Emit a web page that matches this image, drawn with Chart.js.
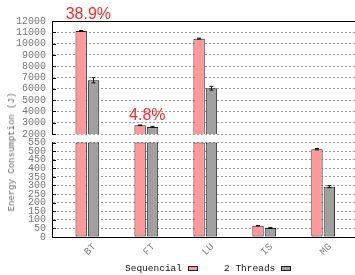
<!DOCTYPE html>
<html>
<head>
<meta charset="utf-8">
<script src="https://cdn.jsdelivr.net/npm/chart.js@4.4.1/dist/chart.umd.min.js"></script>
<style>
  body { margin: 0; background: #fff; }
  #wrap { position: relative; width: 355px; height: 275px; overflow: hidden; }
  #wrap canvas { position: absolute; left: 0; top: 0; }
  #ytitle {
    position: absolute; left: 12px; top: 152px;
    transform: translate(-50%, -50%) rotate(-90deg);
    font: 9px "Liberation Mono", monospace; color: #666; white-space: nowrap;
  }
  #legend {
    position: absolute; left: 125px; top: 263px;
    font: 9.5px "Liberation Mono", monospace; color: #111;
    white-space: nowrap; display: flex; align-items: center;
  }
  #legend .box { display: inline-block; width: 8px; height: 3px; border: 1px solid #222; margin: 0 26px 0 6px; }
</style>
</head>
<body>
<div id="wrap">
  <canvas id="upper" width="355" height="275"></canvas>
  <canvas id="lower" width="355" height="275"></canvas>
  <div id="ytitle">Energy Consumption (J)</div>
  <div id="legend"></div>
</div>
<script>
const categories = ['BT', 'FT', 'LU', 'IS', 'MG'];
const sequencialEnergy = [11120, 2770, 10440, 66, 511];
const sequencialError = [40, 30, 40, 1, 4];
const threadsEnergy = [6760, 2630, 6050, 53, 293];
const threadsError = [230, 50, 170, 2, 6];

const upperTicks = [2000, 3000, 4000, 5000, 6000, 7000, 8000, 9000, 10000, 11000, 12000];
const lowerTicks = [0, 50, 100, 150, 200, 250, 300, 350, 400, 450, 500, 550];

const gainLabels = ['38.9%', '4.8%'];
const gainCategories = ['BT', 'FT'];
const gainLevels = [12180, 3240];

const series = [
  { label: 'Sequencial', values: sequencialEnergy, errors: sequencialError, color: '#ff9999' },
  { label: '2 Threads', values: threadsEnergy, errors: threadsError, color: '#a0a0a0' }
];

const monoFont = { family: '"Liberation Mono", monospace', size: 10 };

// error bars, only where the value lies inside this panel
const errorBars = {
  id: 'errorBars',
  afterDatasetsDraw(chart) {
    const ctx = chart.ctx;
    const y = chart.scales.y;
    ctx.save();
    ctx.strokeStyle = '#111';
    ctx.lineWidth = 1;
    chart.data.datasets.forEach((ds, i) => {
      chart.getDatasetMeta(i).data.forEach((bar, j) => {
        const v = ds.raw[j], e = ds.errors[j];
        if (v < y.min || v > y.max) return;
        const y1 = y.getPixelForValue(v + e);
        const y2 = y.getPixelForValue(v - e);
        ctx.beginPath();
        ctx.moveTo(bar.x, y1); ctx.lineTo(bar.x, y2);
        ctx.moveTo(bar.x - 2, y1); ctx.lineTo(bar.x + 2, y1);
        ctx.moveTo(bar.x - 2, y2); ctx.lineTo(bar.x + 2, y2);
        ctx.stroke();
      });
    });
    ctx.restore();
  }
};

// short inward ticks on the left axis, plus the solid top frame line
const frame = {
  id: 'frame',
  afterDraw(chart, args, opts) {
    const ctx = chart.ctx;
    const y = chart.scales.y;
    const a = chart.chartArea;
    ctx.save();
    ctx.strokeStyle = '#000';
    ctx.lineWidth = 1;
    ctx.beginPath();
    y.ticks.forEach(t => {
      const py = Math.round(y.getPixelForValue(t.value)) + 0.5;
      ctx.moveTo(a.left, py);
      ctx.lineTo(a.left + 4, py);
    });
    if (opts.topLine) {
      ctx.moveTo(a.left, Math.round(a.top) + 0.5);
      ctx.lineTo(a.right, Math.round(a.top) + 0.5);
    }
    ctx.stroke();
    ctx.restore();
  }
};

const gains = {
  id: 'gains',
  afterDraw(chart) {
    const ctx = chart.ctx;
    const x = chart.scales.x, y = chart.scales.y;
    ctx.save();
    ctx.fillStyle = '#ff2a2a';
    ctx.font = '16px "Liberation Sans", Arial, sans-serif';
    ctx.textAlign = 'center';
    ctx.textBaseline = 'alphabetic';
    gainLabels.forEach((txt, i) => {
      const px = x.getPixelForValue(categories.indexOf(gainCategories[i]) + 1);
      ctx.fillText(txt, px + 1, y.getPixelForValue(gainLevels[i]));
    });
    ctx.restore();
  }
};

function makeDatasets(pick, clip) {
  return series.map(s => ({
    label: s.label,
    raw: s.values,
    errors: s.errors,
    data: s.values.map((v, i) => ({ x: i + 1, y: pick(v) })),
    backgroundColor: s.color,
    borderColor: '#222',
    borderWidth: 1,
    borderSkipped: false,
    categoryPercentage: 0.42,
    barPercentage: 0.92,
    clip: clip
  }));
}

function xScale(show) {
  return {
    type: 'linear',
    min: 0.4,
    max: 5.54,
    offset: false,
    display: show,
    grid: { display: false, drawTicks: false },
    border: { color: '#000', width: 1 },
    afterBuildTicks: s => { s.ticks = categories.map((c, i) => ({ value: i + 1 })); },
    afterFit: s => { s.height = show ? 38 : 0; },
    ticks: {
      autoSkip: false,
      minRotation: 45,
      maxRotation: 45,
      labelOffset: 7,
      padding: 4,
      color: '#888',
      font: monoFont,
      callback: v => categories[v - 1]
    }
  };
}

function yScale(ticks) {
  return {
    type: 'linear',
    min: ticks[0],
    max: ticks[ticks.length - 1],
    afterBuildTicks: s => { s.ticks = ticks.map(v => ({ value: v })); },
    afterFit: s => { s.width = 52; },
    grid: { color: '#9a9a9a', drawTicks: false },
    border: { color: '#000', width: 1, dash: [2, 2] },
    ticks: { autoSkip: false, padding: 6, color: '#777', font: monoFont, callback: v => String(v) }
  };
}

function makeChart(id, datasets, ticks, padding, showX, topLine) {
  return new Chart(document.getElementById(id), {
    type: 'bar',
    data: { datasets: datasets },
    options: {
      responsive: false,
      animation: false,
      layout: { padding: padding },
      scales: { x: xScale(showX), y: yScale(ticks) },
      plugins: {
        legend: { display: false },
        tooltip: { enabled: false },
        frame: { topLine: topLine }
      }
    },
    plugins: [errorBars, frame].concat(topLine ? [gains] : [])
  });
}

const upperMin = upperTicks[0];
const lowerMax = lowerTicks[lowerTicks.length - 1];

makeChart('upper',
  makeDatasets(v => (v > upperMin ? v : null), true),
  upperTicks, { top: 21, bottom: 141, left: 0, right: 0 }, false, true);

makeChart('lower',
  makeDatasets(v => Math.min(v, lowerMax), false),
  lowerTicks, { top: 142.5, bottom: 0, left: 0, right: 0 }, true, false);

const legend = document.getElementById('legend');
series.forEach(s => {
  const txt = document.createElement('span');
  txt.textContent = s.label;
  const box = document.createElement('span');
  box.className = 'box';
  box.style.background = s.color;
  legend.appendChild(txt);
  legend.appendChild(box);
});
</script>
</body>
</html>
